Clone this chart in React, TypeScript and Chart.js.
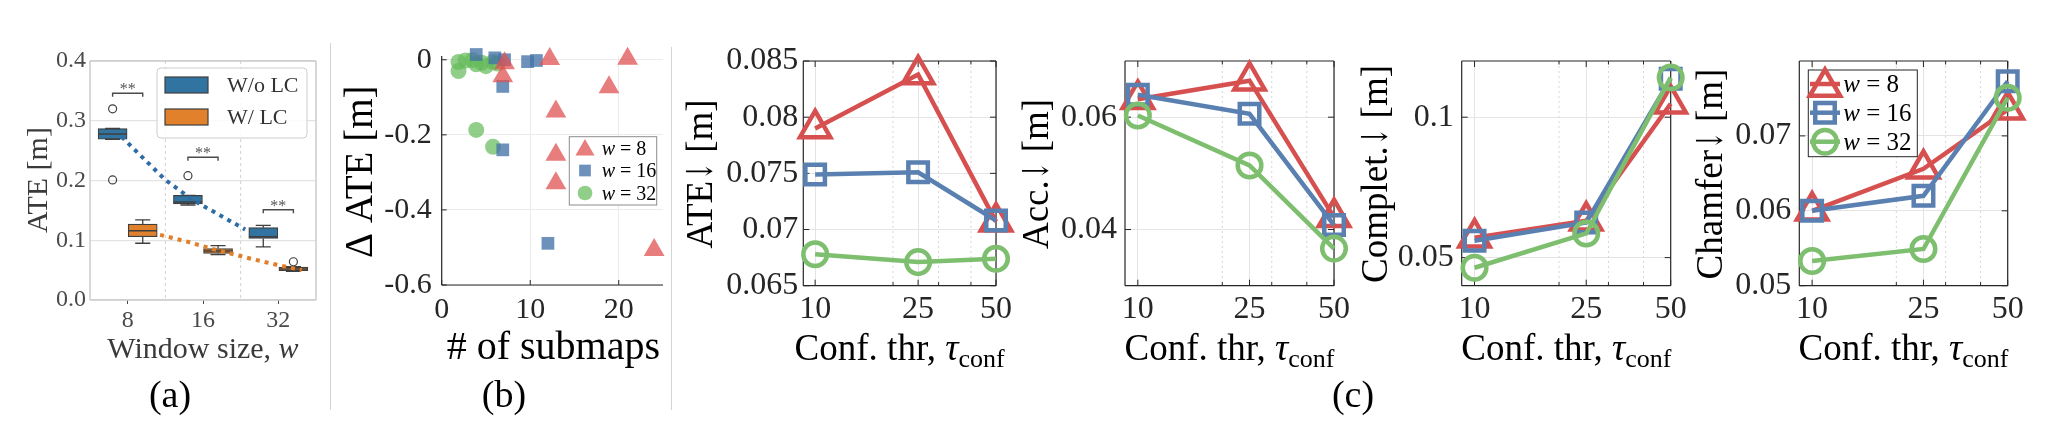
import React, { useEffect, useRef } from 'react';
import { Chart, registerables } from 'chart.js';

Chart.register(...registerables);

const SERIF = '"Liberation Serif", "Times New Roman", "DejaVu Serif", serif';
const ARROW_FONT = '"DejaVu Serif", serif';
const H = 442;

// ===================== (a) box plot: window size =====================
const windowLabels = ['8', '16', '32'];
const boxLegend = ['W/o LC', 'W/ LC'];
const noLcQ1 = [0.269, 0.161, 0.103];
const noLcMedian = [0.278, 0.164, 0.106];
const noLcQ3 = [0.287, 0.175, 0.121];
const noLcLow = [0.269, 0.159, 0.089];
const noLcHigh = [0.287, 0.175, 0.125];
const lcQ1 = [0.106, 0.078, 0.049];
const lcMedian = [0.116, 0.082, 0.052];
const lcQ3 = [0.127, 0.086, 0.055];
const lcLow = [0.095, 0.076, 0.048];
const lcHigh = [0.134, 0.091, 0.056];
const noLcOutlierGroup = [0, 0, 1];
const noLcOutlierValue = [0.32, 0.201, 0.208];
const lcOutlierGroup = [2];
const lcOutlierValue = [0.064];
const noLcTrendPos = [-0.08, 0.21, 0.5, 0.87, 1.18, 1.56];
const noLcTrendValue = [0.273, 0.237, 0.201, 0.167, 0.145, 0.118];
const lcTrendPos = [0.43, 0.78, 1.14, 1.67, 1.98, 2.31];
const lcTrendValue = [0.109, 0.098, 0.085, 0.068, 0.059, 0.05];
const sigLevel = [0.346, 0.239, 0.151];
const sigText = ['**', '**', '**'];
const ateBoxTicks = [0, 0.1, 0.2, 0.3, 0.4];

// ===================== (b) scatter: # of submaps =====================
const w8Submaps = [12.2, 21, 7.1, 6.9, 18.9, 12.9, 12.9, 12.9, 24];
const w8DeltaAte = [0.002, 0.003, -0.009, -0.044, -0.073, -0.138, -0.253, -0.329, -0.507];
const w16Submaps = [3.9, 6.0, 7.1, 6.9, 6.9, 9.7, 10.7, 12];
const w16DeltaAte = [0.014, 0.005, 0.0, -0.071, -0.24, -0.005, -0.002, -0.489];
const w32Submaps = [1.9, 1.9, 2.7, 3.5, 3.9, 4.5, 5.0, 5.8, 6.3, 3.9, 5.8];
const w32DeltaAte = [-0.006, -0.03, -0.002, -0.001, -0.012, -0.008, -0.017, -0.006, -0.01, -0.187, -0.232];
const submapTicks = [0, 10, 20];
const deltaTicks = [-0.6, -0.4, -0.2, 0];

// ===================== (c) line plots: confidence threshold =====================
const seriesNames = ['8', '16', '32'];
const confThr = [10, 25, 50];
const confMinor = [20, 30, 40];
const ateW8 = [0.079, 0.0838, 0.0707];
const ateW16 = [0.0749, 0.0751, 0.0708];
const ateW32 = [0.0678, 0.0671, 0.0674];
const accW8 = [0.0632, 0.0665, 0.0422];
const accW16 = [0.064, 0.0606, 0.0408];
const accW32 = [0.0603, 0.0514, 0.0366];
const complW8 = [0.0571, 0.0631, 0.1048];
const complW16 = [0.056, 0.0625, 0.1137];
const complW32 = [0.0464, 0.0586, 0.1141];
const chamferW8 = [0.06, 0.0656, 0.0735];
const chamferW16 = [0.06, 0.062, 0.0773];
const chamferW32 = [0.0533, 0.0549, 0.0751];
const ateTicks = [0.065, 0.07, 0.075, 0.08, 0.085];
const accTicks = [0.04, 0.06];
const complTicks = [0.05, 0.1];
const chamferTicks = [0.05, 0.06, 0.07];

// ---------- styles ----------
const SB_BLUE = '#3274A1';
const SB_ORANGE = '#E1812C';
const SB_EDGE = '#3f3f3f';
const M_RED = '#D75050';
const M_BLUE = '#5A80B1';
const M_GREEN = '#7EBE6F';
const B_RED = 'rgba(224,82,82,0.75)';
const B_BLUE = 'rgba(68,114,168,0.78)';
const B_GREEN = 'rgba(102,187,92,0.72)';
const AXIS_DARK = '#262626';

const f = (size: number, italic = false) => `${italic ? 'italic ' : ''}${size}px ${SERIF}`;

type Area = { left: number; right: number; top: number; bottom: number };
function layoutFor(L: number, W: number, area: Area) {
  return {
    padding: { left: 0, right: L + W - area.right, top: area.top, bottom: 0 },
    yWidth: area.left - L,
    xHeight: H - area.bottom,
  };
}

function segs(list: number[][]) {
  const out: any[] = [];
  list.forEach(([x1, y1, x2, y2]) => {
    out.push({ x: x1, y: y1 }, { x: x2, y: y2 }, { x: x2, y: null });
  });
  return out;
}

function drawText(ctx: CanvasRenderingContext2D, item: any, ox: number) {
  ctx.save();
  ctx.translate(item.x - ox, item.y);
  if (item.rot) ctx.rotate(-Math.PI / 2);
  ctx.textBaseline = 'alphabetic';
  ctx.textAlign = 'left';
  let total = 0;
  for (const p of item.parts) {
    ctx.font = p.font;
    total += ctx.measureText(p.t).width * (p.sx || 1);
  }
  let x = item.align === 'left' ? 0 : -total / 2;
  ctx.fillStyle = item.color || '#000';
  for (const p of item.parts) {
    ctx.font = p.font;
    const w = ctx.measureText(p.t).width;
    if (p.sx) {
      ctx.save();
      ctx.translate(x, p.dy || 0);
      ctx.scale(p.sx, 1);
      ctx.fillText(p.t, 0, 0);
      ctx.restore();
      x += w * p.sx;
    } else {
      ctx.fillText(p.t, x, p.dy || 0);
      x += w;
    }
  }
  ctx.restore();
}

function marker(ctx: CanvasRenderingContext2D, style: string, x: number, y: number, r: number, fill: string | null, stroke: string | null, lw: number) {
  ctx.beginPath();
  if (style === 'triangle') {
    ctx.moveTo(x, y - r);
    ctx.lineTo(x + Math.sin((2 * Math.PI) / 3) * r, y - Math.cos((2 * Math.PI) / 3) * r);
    ctx.lineTo(x + Math.sin((4 * Math.PI) / 3) * r, y - Math.cos((4 * Math.PI) / 3) * r);
    ctx.closePath();
  } else if (style === 'rect') {
    const s = Math.SQRT1_2 * r;
    ctx.rect(x - s, y - s, 2 * s, 2 * s);
  } else {
    ctx.arc(x, y, r, 0, Math.PI * 2);
  }
  if (fill) {
    ctx.fillStyle = fill;
    ctx.fill();
  }
  if (stroke && lw > 0) {
    ctx.strokeStyle = stroke;
    ctx.lineWidth = lw;
    ctx.stroke();
  }
}

function makeDecor(spec: any) {
  return {
    id: 'decor',
    beforeDatasetsDraw(chart: any) {
      const { ctx, chartArea: a, scales } = chart;
      ctx.save();
      if (spec.vlines) {
        const v = spec.vlines;
        ctx.strokeStyle = v.color;
        ctx.lineWidth = v.width;
        ctx.setLineDash(v.dash);
        ctx.beginPath();
        v.values.forEach((val: number) => {
          const px = scales.x.getPixelForValue(val);
          ctx.moveTo(px, a.top);
          ctx.lineTo(px, a.bottom);
        });
        ctx.stroke();
        ctx.setLineDash([]);
      }
      if (spec.inner) {
        const t = spec.inner;
        ctx.strokeStyle = t.color;
        ctx.lineWidth = 1;
        ctx.beginPath();
        t.x.forEach(([v, len]: number[]) => {
          const px = scales.x.getPixelForValue(v);
          ctx.moveTo(px, a.bottom);
          ctx.lineTo(px, a.bottom - len);
          if (t.mirror) {
            ctx.moveTo(px, a.top);
            ctx.lineTo(px, a.top + len);
          }
        });
        t.y.forEach(([v, len]: number[]) => {
          const py = scales.y.getPixelForValue(v);
          ctx.moveTo(a.left, py);
          ctx.lineTo(a.left + len, py);
          if (t.mirror) {
            ctx.moveTo(a.right, py);
            ctx.lineTo(a.right - len, py);
          }
        });
        ctx.stroke();
      }
      if (spec.frame) {
        const fr = spec.frame;
        ctx.strokeStyle = fr.color;
        ctx.lineWidth = fr.width;
        ctx.beginPath();
        if (fr.sides.includes('l')) { ctx.moveTo(a.left, a.top); ctx.lineTo(a.left, a.bottom); }
        if (fr.sides.includes('b')) { ctx.moveTo(a.left, a.bottom); ctx.lineTo(a.right, a.bottom); }
        if (fr.sides.includes('t')) { ctx.moveTo(a.left, a.top); ctx.lineTo(a.right, a.top); }
        if (fr.sides.includes('r')) { ctx.moveTo(a.right, a.top); ctx.lineTo(a.right, a.bottom); }
        ctx.stroke();
      }
      ctx.restore();
    },
    afterDraw(chart: any) {
      const { ctx } = chart;
      ctx.save();
      if (spec.extra) spec.extra(ctx, chart);
      (spec.texts || []).forEach((t: any) => drawText(ctx, t, spec.ox));
      ctx.restore();
    },
  };
}

const baseOptions = (lay: any) => ({
  responsive: false,
  maintainAspectRatio: false,
  animation: false as const,
  devicePixelRatio: 1,
  events: [] as any[],
  layout: { padding: lay.padding },
  plugins: { legend: { display: false }, tooltip: { enabled: false }, title: { display: false } },
});

// ===================== panel (a) =====================
function buildA(canvas: HTMLCanvasElement) {
  const L = 0, W = 340;
  const area = { left: 90, right: 316, top: 61, bottom: 300 };
  const lay = layoutFor(L, W, area);
  const whisk = (off: number, q1: number[], q3: number[], lo: number[], hi: number[]) =>
    segs(windowLabels.flatMap((_, i) => [
      [i + off, q3[i], i + off, hi[i]],
      [i + off - 0.1, hi[i], i + off + 0.1, hi[i]],
      [i + off, q1[i], i + off, lo[i]],
      [i + off - 0.1, lo[i], i + off + 0.1, lo[i]],
    ]));
  const med = (off: number, m: number[]) => segs(windowLabels.map((_, i) => [i + off - 0.19, m[i], i + off + 0.19, m[i]]));
  const brackets: any[] = [];
  sigLevel.forEach((s, i) => {
    brackets.push({ x: i - 0.2, y: s - 0.006 }, { x: i - 0.2, y: s }, { x: i + 0.2, y: s }, { x: i + 0.2, y: s - 0.006 }, { x: i + 0.2, y: null });
  });
  const lineDs = (data: any[], color: string, width: number, order: number, dash: number[] = []) => ({
    type: 'scatter', data, showLine: true, borderColor: color, borderWidth: width, borderDash: dash, pointRadius: 0, pointHoverRadius: 0, order,
  });
  const datasets: any[] = [
    { type: 'bar', label: boxLegend[0], data: windowLabels.map((_, i) => ({ x: i - 0.2, y: [noLcQ1[i], noLcQ3[i]] })), backgroundColor: SB_BLUE, borderColor: SB_EDGE, borderWidth: 1.2, borderSkipped: false, barThickness: 29, grouped: false, order: 6 },
    { type: 'bar', label: boxLegend[1], data: windowLabels.map((_, i) => ({ x: i + 0.2, y: [lcQ1[i], lcQ3[i]] })), backgroundColor: SB_ORANGE, borderColor: SB_EDGE, borderWidth: 1.2, borderSkipped: false, barThickness: 29, grouped: false, order: 6 },
    lineDs(whisk(-0.2, noLcQ1, noLcQ3, noLcLow, noLcHigh), SB_EDGE, 1.3, 5),
    lineDs(whisk(0.2, lcQ1, lcQ3, lcLow, lcHigh), SB_EDGE, 1.3, 5),
    lineDs(med(-0.2, noLcMedian), SB_EDGE, 1.5, 4),
    lineDs(med(0.2, lcMedian), SB_EDGE, 1.5, 4),
    { type: 'scatter', data: noLcOutlierGroup.map((g, k) => ({ x: g - 0.2, y: noLcOutlierValue[k] })), pointStyle: 'circle', pointRadius: 4, pointHoverRadius: 4, pointBorderColor: SB_EDGE, pointBackgroundColor: 'rgba(255,255,255,0)', pointBorderWidth: 1.2, order: 3 },
    { type: 'scatter', data: lcOutlierGroup.map((g, k) => ({ x: g + 0.2, y: lcOutlierValue[k] })), pointStyle: 'circle', pointRadius: 4, pointHoverRadius: 4, pointBorderColor: SB_EDGE, pointBackgroundColor: 'rgba(255,255,255,0)', pointBorderWidth: 1.2, order: 3 },
    lineDs(noLcTrendPos.map((x, i) => ({ x, y: noLcTrendValue[i] })), '#2E6CA3', 4, 1, [4, 5]),
    lineDs(lcTrendPos.map((x, i) => ({ x, y: lcTrendValue[i] })), '#E07E2A', 4, 1, [4, 5]),
    lineDs(brackets, '#4a4a4a', 1.4, 1),
  ];
  const tickFont = { family: SERIF, size: 24, lineHeight: 1 };
  const decor = makeDecor({
    ox: L,
    vlines: { values: [0.5, 1.5], color: '#cfcfcf', width: 1, dash: [3, 3] },
    frame: { color: '#cccccc', width: 1.5, sides: 'lbtr' },
    texts: [
      { x: 47, y: 180, rot: true, color: '#3a3a3a', parts: [{ t: 'ATE [m]', font: f(30) }] },
      { x: 203, y: 358, color: '#3a3a3a', parts: [{ t: 'Window size, ', font: f(30) }, { t: 'w', font: f(30, true) }] },
    ],
    extra: (ctx: CanvasRenderingContext2D, chart: any) => {
      const { x: xs, y: ys } = chart.scales;
      ctx.fillStyle = '#555';
      ctx.font = f(16);
      ctx.textAlign = 'center';
      ctx.textBaseline = 'alphabetic';
      sigLevel.forEach((s, i) => ctx.fillText(sigText[i], xs.getPixelForValue(i), ys.getPixelForValue(s) + 1));
      // legend
      ctx.beginPath();
      (ctx as any).roundRect(157 - L, 68, 150, 70, 4);
      ctx.fillStyle = 'rgba(255,255,255,0.85)';
      ctx.fill();
      ctx.strokeStyle = '#cccccc';
      ctx.lineWidth = 1;
      ctx.stroke();
      [SB_BLUE, SB_ORANGE].forEach((c, k) => {
        ctx.fillStyle = c;
        ctx.fillRect(165 - L, 77 + k * 32, 43, 16);
        ctx.strokeStyle = SB_EDGE;
        ctx.lineWidth = 1.2;
        ctx.strokeRect(165 - L, 77 + k * 32, 43, 16);
        ctx.fillStyle = '#333';
        ctx.font = f(22);
        ctx.textAlign = 'left';
        ctx.fillText(boxLegend[k], 227 - L, 92 + k * 32);
      });
    },
  });
  return new Chart(canvas, {
    type: 'scatter',
    data: { datasets },
    options: {
      ...baseOptions(lay),
      scales: {
        x: {
          type: 'linear', min: -0.5, max: 2.5, offset: false, bounds: 'data',
          afterFit: (s: any) => { s.height = lay.xHeight; },
          afterBuildTicks: (s: any) => { s.ticks = windowLabels.map((_, i) => ({ value: i })); },
          ticks: { callback: (v: any) => windowLabels[v], font: tickFont, color: '#4a4a4a', padding: 5, autoSkip: false, maxRotation: 0 },
          grid: { display: true, drawOnChartArea: false, drawTicks: true, tickLength: 4, tickColor: '#4a4a4a', tickWidth: 1, offset: false },
          border: { display: false },
        },
        y: {
          type: 'linear', min: 0, max: 0.4, bounds: 'data',
          afterFit: (s: any) => { s.width = lay.yWidth; },
          afterBuildTicks: (s: any) => { s.ticks = ateBoxTicks.map((v) => ({ value: v })); },
          ticks: { callback: (v: any) => Number(v).toFixed(1), font: tickFont, color: '#4a4a4a', padding: 4 },
          grid: { color: '#e3e3e3', lineWidth: 1.3, drawTicks: false },
          border: { display: false },
        },
      },
    } as any,
    plugins: [decor as any],
  } as any);
}

// ===================== panel (b) =====================
const bStyles = ['triangle', 'rect', 'circle'];
const bRadii = [12, 9, 8];
const bColors = [B_RED, B_BLUE, B_GREEN];

function buildB(canvas: HTMLCanvasElement) {
  const L = 335, W = 340;
  const area = { left: 441.7, right: 663.3, top: 56, bottom: 285 };
  const lay = layoutFor(L, W, area);
  const xs = [w8Submaps, w16Submaps, w32Submaps];
  const ys = [w8DeltaAte, w16DeltaAte, w32DeltaAte];
  const datasets: any[] = xs.map((xv, k) => ({
    type: 'scatter',
    label: 'w = ' + seriesNames[k],
    data: xv.map((x, i) => ({ x, y: ys[k][i] })),
    pointStyle: bStyles[k], pointRadius: bRadii[k], pointHoverRadius: bRadii[k],
    pointBackgroundColor: bColors[k], pointBorderWidth: 0, pointBorderColor: 'rgba(0,0,0,0)',
    clip: false, order: k + 1,
  }));
  const tickFont = { family: SERIF, size: 30, lineHeight: 1 };
  const decor = makeDecor({
    ox: L,
    frame: { color: AXIS_DARK, width: 1.2, sides: 'lb' },
    inner: { color: AXIS_DARK, mirror: false, x: submapTicks.map((v) => [v, 5]), y: deltaTicks.map((v) => [v, 5]) },
    texts: [
      { x: 371.7, y: 171.7, rot: true, parts: [{ t: 'Δ ATE [m]', font: f(39) }] },
      { x: 553.3, y: 359.3, parts: [{ t: '# of submaps', font: f(40) }] },
    ],
    extra: (ctx: CanvasRenderingContext2D) => {
      ctx.fillStyle = '#fff';
      ctx.fillRect(569.3 - L, 136.7, 87.4, 68.3);
      ctx.strokeStyle = '#8c8c8c';
      ctx.lineWidth = 1;
      ctx.strokeRect(569.3 - L, 136.7, 87.4, 68.3);
      const rows = [148, 170.5, 193];
      rows.forEach((ry, k) => {
        marker(ctx, bStyles[k], 585 - L, k === 0 ? ry + 2 : ry, bRadii[k] * 0.92, bColors[k], null, 0);
        ctx.fillStyle = '#000';
        ctx.textAlign = 'left';
        ctx.textBaseline = 'alphabetic';
        ctx.font = f(20, true);
        ctx.fillText('w', 601.7 - L, ry + 6.6);
        const ww = ctx.measureText('w').width;
        ctx.font = f(20);
        ctx.fillText(' = ' + seriesNames[k], 601.7 - L + ww, ry + 6.6);
      });
    },
  });
  return new Chart(canvas, {
    type: 'scatter',
    data: { datasets },
    options: {
      ...baseOptions(lay),
      scales: {
        x: {
          type: 'linear', min: 0, max: 25, bounds: 'data',
          afterFit: (s: any) => { s.height = lay.xHeight; },
          afterBuildTicks: (s: any) => { s.ticks = submapTicks.map((v) => ({ value: v })); },
          ticks: { callback: (v: any) => String(v), font: tickFont, color: AXIS_DARK, padding: 10, autoSkip: false, maxRotation: 0 },
          grid: { color: '#ebebeb', lineWidth: 1, drawTicks: false },
          border: { display: false },
        },
        y: {
          type: 'linear', min: -0.6, max: 0.01, bounds: 'data',
          afterFit: (s: any) => { s.width = lay.yWidth; },
          afterBuildTicks: (s: any) => { s.ticks = deltaTicks.map((v) => ({ value: v })); },
          ticks: { callback: (v: any) => String(v), font: tickFont, color: AXIS_DARK, padding: 10 },
          grid: { color: '#ebebeb', lineWidth: 1, drawTicks: false },
          border: { display: false },
        },
      },
    } as any,
    plugins: [decor as any],
  } as any);
}

// ===================== panels (c) =====================
const cStyles = ['triangle', 'rect', 'circle'];
const cRadii = [17.5, 13.8, 11.8];
const cColors = [M_RED, M_BLUE, M_GREEN];
const C_LW = 4.5;

function buildC(canvas: HTMLCanvasElement, cfg: any) {
  const { L, W, area, yMin, yMax, yTicks, series, yTitle, yTitleX, yPad, legend } = cfg;
  const lay = layoutFor(L, W, area);
  const datasets: any[] = series.map((vals: number[], k: number) => ({
    type: 'scatter',
    label: 'w = ' + seriesNames[k],
    data: confThr.map((x, i) => ({ x, y: vals[i] })),
    showLine: true,
    borderColor: cColors[k], borderWidth: C_LW,
    pointStyle: cStyles[k], pointRadius: cRadii[k], pointHoverRadius: cRadii[k],
    pointBorderColor: cColors[k], pointBorderWidth: C_LW, pointBackgroundColor: 'rgba(0,0,0,0)',
    clip: false, order: 3 - k,
  }));
  const tickFont = { family: SERIF, size: 32, lineHeight: 1 };
  const cx = (area.left + area.right) / 2;
  const decor = makeDecor({
    ox: L,
    vlines: { values: confMinor, color: '#d6d6d6', width: 1, dash: [2, 3] },
    frame: { color: AXIS_DARK, width: 1.2, sides: 'lbtr' },
    inner: {
      color: AXIS_DARK, mirror: true,
      x: [...confThr.map((v) => [v, 6]), ...confMinor.map((v) => [v, 3.5])],
      y: yTicks.map((v: number) => [v, 6]),
    },
    texts: [
      {
        x: yTitleX, y: 174, rot: true,
        parts: [
          { t: yTitle, font: f(37) },
          { t: '\u2193', font: `36px ${ARROW_FONT}`, sx: 0.62 },
          { t: ' [m]', font: f(37) },
        ],
      },
      { x: cx, y: 360, parts: [{ t: 'Conf. thr, ', font: f(37) }, { t: 'τ', font: f(37, true) }, { t: 'conf', font: f(26), dy: 7 }] },
    ],
    extra: legend
      ? (ctx: CanvasRenderingContext2D) => {
          ctx.fillStyle = '#fff';
          ctx.fillRect(1808.3 - L, 70, 109, 86.7);
          ctx.strokeStyle = AXIS_DARK;
          ctx.lineWidth = 1;
          ctx.strokeRect(1808.3 - L, 70, 109, 86.7);
          const rows = [84, 112.7, 141.7];
          rows.forEach((ry, k) => {
            ctx.strokeStyle = cColors[k];
            ctx.lineWidth = C_LW;
            ctx.beginPath();
            ctx.moveTo(1810 - L, ry);
            ctx.lineTo(1840 - L, ry);
            ctx.stroke();
            marker(ctx, cStyles[k], 1825 - L, k === 0 ? ry + 3 : ry, cRadii[k], null, cColors[k], C_LW);
            ctx.fillStyle = '#000';
            ctx.textAlign = 'left';
            ctx.textBaseline = 'alphabetic';
            ctx.font = f(25, true);
            ctx.fillText('w', 1843.3 - L, ry + 8.2);
            const ww = ctx.measureText('w').width;
            ctx.font = f(25);
            ctx.fillText(' = ' + seriesNames[k], 1843.3 - L + ww, ry + 8.2);
          });
        }
      : null,
  });
  return new Chart(canvas, {
    type: 'scatter',
    data: { datasets },
    options: {
      ...baseOptions(lay),
      scales: {
        x: {
          type: 'logarithmic', min: 9, max: 50, bounds: 'data',
          afterFit: (s: any) => { s.height = lay.xHeight; },
          afterBuildTicks: (s: any) => { s.ticks = confThr.map((v) => ({ value: v })); },
          ticks: { callback: (v: any) => String(v), font: tickFont, color: AXIS_DARK, padding: 8.3, autoSkip: false, maxRotation: 0 },
          grid: { color: '#e4e4e4', lineWidth: 1, drawTicks: false },
          border: { display: false },
        },
        y: {
          type: 'linear', min: yMin, max: yMax, bounds: 'data',
          afterFit: (s: any) => { s.width = lay.yWidth; },
          afterBuildTicks: (s: any) => { s.ticks = yTicks.map((v: number) => ({ value: v })); },
          ticks: { callback: (v: any) => String(v), font: tickFont, color: AXIS_DARK, padding: yPad },
          grid: { color: '#e4e4e4', lineWidth: 1, drawTicks: false },
          border: { display: false },
        },
      },
    } as any,
    plugins: [decor as any],
  } as any);
}

const canvasRects = [
  { L: 0, W: 340 },
  { L: 335, W: 340 },
  { L: 680, W: 350 },
  { L: 1015, W: 345 },
  { L: 1350, W: 345 },
  { L: 1688, W: 370 },
];

export default function App() {
  const r0 = useRef<HTMLCanvasElement>(null);
  const r1 = useRef<HTMLCanvasElement>(null);
  const r2 = useRef<HTMLCanvasElement>(null);
  const r3 = useRef<HTMLCanvasElement>(null);
  const r4 = useRef<HTMLCanvasElement>(null);
  const r5 = useRef<HTMLCanvasElement>(null);
  const refs = [r0, r1, r2, r3, r4, r5];

  useEffect(() => {
    const charts: Chart[] = [];
    charts.push(buildA(r0.current!));
    charts.push(buildB(r1.current!));
    charts.push(buildC(r2.current!, {
      ...canvasRects[2], area: { left: 803.3, right: 996, top: 61, bottom: 285.7 },
      yMin: 0.065, yMax: 0.085, yTicks: ateTicks, series: [ateW8, ateW16, ateW32],
      yTitle: 'ATE', yTitleX: 711.7, yPad: 5, legend: false,
    }));
    charts.push(buildC(r3.current!, {
      ...canvasRects[3], area: { left: 1125, right: 1334, top: 61, bottom: 285.7 },
      yMin: 0.03, yMax: 0.07, yTicks: accTicks, series: [accW8, accW16, accW32],
      yTitle: 'Acc.', yTitleX: 1048.3, yPad: 8, legend: false,
    }));
    charts.push(buildC(r4.current!, {
      ...canvasRects[4], area: { left: 1461.7, right: 1671, top: 61, bottom: 285.7 },
      yMin: 0.04, yMax: 0.12, yTicks: complTicks, series: [complW8, complW16, complW32],
      yTitle: 'Complet.', yTitleX: 1386.7, yPad: 8, legend: false,
    }));
    charts.push(buildC(r5.current!, {
      ...canvasRects[5], area: { left: 1799.3, right: 2007.7, top: 61, bottom: 285.7 },
      yMin: 0.05, yMax: 0.08, yTicks: chamferTicks, series: [chamferW8, chamferW16, chamferW32],
      yTitle: 'Chamfer', yTitleX: 1721.7, yPad: 8, legend: true,
    }));
    return () => charts.forEach((c) => c.destroy());
  }, []);

  const cap = (text: string, x: number) => (
    <div style={{ position: 'absolute', left: x, top: 394, transform: 'translate(-50%, -50%)', font: `38px ${SERIF}`, lineHeight: 1, color: '#000', whiteSpace: 'nowrap' }}>{text}</div>
  );

  return (
    <div style={{ position: 'absolute', left: 0, top: 0, width: 2058, height: H, background: '#fff', overflow: 'hidden' }}>
      <div style={{ position: 'absolute', left: 329.5, top: 43, width: 1.3, height: 367, background: '#d4d4d4' }} />
      <div style={{ position: 'absolute', left: 671, top: 47, width: 1.3, height: 363, background: '#d4d4d4' }} />
      {refs.map((r, i) => (
        <canvas key={i} ref={r} width={canvasRects[i].W} height={H}
          style={{ position: 'absolute', left: canvasRects[i].L, top: 0, width: canvasRects[i].W, height: H }} />
      ))}
      {cap('(a)', 170)}
      {cap('(b)', 504)}
      {cap('(c)', 1353)}
    </div>
  );
}
